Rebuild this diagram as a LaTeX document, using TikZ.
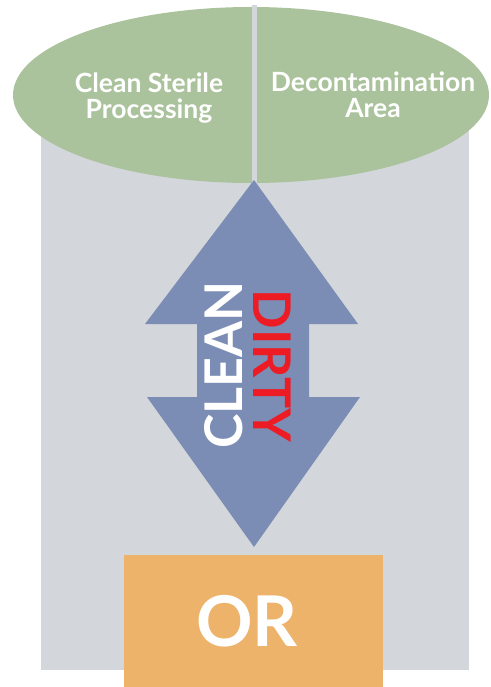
\documentclass[tikz,border=0pt]{standalone}
\usepackage{fontspec}
\setmainfont{Lato}
\definecolor{grayback}{HTML}{D3D6DA}
\definecolor{greenell}{HTML}{ABC39C}
\definecolor{bluearrow}{HTML}{7B8DB4}
\definecolor{orangebox}{HTML}{EDB36B}
\definecolor{dirtyred}{HTML}{ED1C24}
\tikzset{
  areatext/.style={text=white, font=\bfseries\fontsize{26.5}{26}\selectfont, align=center, inner sep=0pt},
  bigword/.style={font=\bfseries\fontsize{52}{52}\selectfont, inner sep=0pt, anchor=center}
}
\begin{document}
\begin{tikzpicture}[x=1pt,y=-1pt]
\useasboundingbox (0,0) rectangle (490,687);
% gray backdrop
\fill[grayback] (41,100) rectangle (469,670);
% green ellipse split in two
\fill[greenell] (251,95) ellipse [x radius=238, y radius=88];
\fill[grayback] (252,5) rectangle (257,185);
% double arrow
\fill[bluearrow] (254,180) -- (358,324) -- (309,324) -- (309,397) -- (360,397)
  -- (254,547) -- (147,397) -- (197,397) -- (197,324) -- (145,324) -- cycle;
% OR box
\fill[orangebox] (124,555) rectangle (383,687);
% texts
\node[areatext] (csp) at (149,98) {Clean Sterile\\Processing};
\node[areatext] (dec) at (373,95) {Decontamination\\Area};
\node[bigword, text=white, rotate=90] (clean) at (224,365) {CLEAN};
\node[bigword, text=dirtyred, rotate=-90] (dirty) at (272,366) {DIRTY};
\node[text=white, font=\bfseries\fontsize{70}{70}\selectfont, inner sep=0pt] (or) at (247,621) {OR};
\end{tikzpicture}
\end{document}
